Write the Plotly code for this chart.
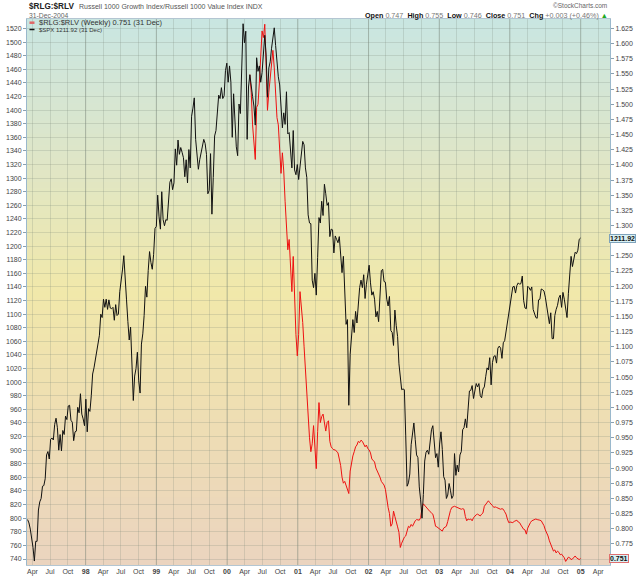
import pandas as pd
import plotly.graph_objects as go

# ---------------- DATA (weekly closes) ----------------
spx_1997 = [798, 793, 784, 773, 757, 737, 766, 766, 812, 824, 829, 847, 848,
            858, 893, 898, 887, 916, 918, 915, 938, 947, 933, 900, 923, 899,
            929, 923, 950, 945, 965, 966, 944, 941, 914, 927, 928, 963, 955,
            983, 953, 946, 936]
spx_1998 = [975, 927, 961, 957, 980, 1012, 1021, 1034, 1049, 1055, 1069, 1100, 1095,
            1122, 1110, 1122, 1107, 1121, 1109, 1108, 1110, 1091, 1114, 1098, 1100, 1133,
            1146, 1165, 1186, 1141, 1121, 1089, 1062, 1081, 1027, 973, 1009, 1020, 1044,
            1002, 984, 1056, 1071, 1098, 1141, 1125, 1164, 1192, 1176, 1166, 1188, 1226]
spx_1999 = [1229, 1275, 1243, 1225, 1280, 1239, 1230, 1239, 1238, 1275, 1294, 1299, 1283,
            1293, 1343, 1319, 1356, 1335, 1345, 1338, 1330, 1302, 1327, 1293, 1342, 1315,
            1391, 1403, 1418, 1357, 1329, 1313, 1327, 1336, 1348, 1357, 1351, 1335, 1277,
            1282, 1336, 1247, 1301, 1362, 1370, 1397, 1422, 1417, 1433, 1417, 1421, 1458, 1469]
spx_2000 = [1441, 1465, 1441, 1360, 1424, 1387, 1346, 1333, 1409, 1395, 1464, 1527, 1499,
            1516, 1357, 1434, 1452, 1433, 1420, 1406, 1378, 1477, 1457, 1465, 1441, 1455,
            1478, 1510, 1481, 1419, 1462, 1471, 1491, 1507, 1521, 1495, 1465, 1449, 1437,
            1408, 1374, 1396, 1379, 1427, 1365, 1367, 1341, 1315, 1370, 1312, 1305, 1320]
spx_2001 = [1298, 1318, 1342, 1354, 1349, 1315, 1301, 1246, 1234, 1233, 1150, 1139, 1160,
            1128, 1183, 1242, 1234, 1266, 1245, 1291, 1277, 1260, 1264, 1214, 1225, 1224,
            1190, 1215, 1210, 1205, 1214, 1190, 1161, 1185, 1133, 1085, 1092, 966, 1041,
            1071, 1092, 1073, 1104, 1087, 1120, 1139, 1150, 1139, 1158, 1123, 1144, 1161]
spx_2002 = [1172, 1146, 1128, 1133, 1122, 1096, 1104, 1089, 1132, 1164, 1166, 1148, 1147,
            1122, 1112, 1126, 1076, 1073, 1054, 1106, 1083, 1067, 1027, 1007, 989, 990,
            989, 921, 847, 852, 865, 908, 928, 940, 916, 893, 889, 846, 827,
            800, 835, 884, 897, 900, 894, 909, 930, 936, 906, 889, 895, 875]
spx_2003 = [909, 927, 901, 861, 856, 829, 834, 851, 841, 829, 833, 895, 863,
            878, 868, 893, 898, 930, 933, 946, 933, 964, 987, 988, 995, 976,
            985, 998, 993, 998, 980, 977, 990, 993, 1008, 1021, 1018, 1036, 996,
            1029, 1038, 1039, 1028, 1050, 1053, 1050, 1035, 1058, 1061, 1074, 1088, 1095]
spx_2004 = [1109, 1122, 1140, 1141, 1131, 1142, 1146, 1144, 1145, 1156, 1120, 1109, 1108,
            1141, 1139, 1135, 1140, 1107, 1099, 1095, 1094, 1121, 1122, 1137, 1136, 1134,
            1125, 1112, 1101, 1086, 1102, 1064, 1064, 1098, 1107, 1113, 1124, 1128, 1110,
            1132, 1122, 1108, 1095, 1130, 1167, 1185, 1170, 1182, 1191, 1189, 1194, 1210, 1211.92]
spx_starts = ["1997-03-07", "1998-01-02", "1999-01-01", "2000-01-07",
              "2001-01-05", "2002-01-04", "2003-01-03", "2004-01-02"]

ratio_2000 = [1.549, 1.52, 1.466, 1.43, 1.409, 1.495, 1.50, 1.535, 1.58, 1.621,
              1.61, 1.632, 1.564, 1.49, 1.52, 1.54, 1.57, 1.589, 1.56, 1.52, 1.478,
              1.466, 1.43, 1.386, 1.42, 1.39, 1.34, 1.30, 1.26, 1.277, 1.22, 1.191,
              1.249, 1.17, 1.12, 1.085]
ratio_2001 = [1.12, 1.191, 1.17, 1.14, 1.10, 1.059, 1.02, 0.978, 0.95, 0.927, 0.94, 0.970,
              0.93, 0.899, 0.96, 1.008, 0.975, 0.985, 0.989, 0.978, 0.961, 0.975, 0.978,
              0.944, 0.935, 0.932, 0.930, 0.93, 0.927, 0.925, 0.915, 0.904, 0.885, 0.875,
              0.878, 0.870, 0.862, 0.858, 0.895, 0.910, 0.920, 0.927, 0.935, 0.938, 0.944,
              0.942, 0.946, 0.944, 0.94, 0.935, 0.938, 0.932]
ratio_2002 = [0.930, 0.925, 0.915, 0.912, 0.91, 0.90, 0.895, 0.892, 0.885, 0.878, 0.875,
              0.872, 0.865, 0.846, 0.835, 0.825, 0.804, 0.808, 0.829, 0.820, 0.813, 0.803,
              0.794, 0.769, 0.776, 0.783, 0.786, 0.788, 0.795, 0.804, 0.802, 0.807, 0.804,
              0.810, 0.813, 0.815, 0.815, 0.814, 0.818, 0.835, 0.841, 0.838, 0.835, 0.833,
              0.830, 0.828, 0.826, 0.824, 0.815, 0.804, 0.803, 0.801]
ratio_2003 = [0.800, 0.798, 0.796, 0.801, 0.803, 0.804, 0.812, 0.824, 0.830, 0.835, 0.836,
              0.837, 0.836, 0.835, 0.834, 0.833, 0.832, 0.833, 0.832, 0.820, 0.813, 0.816,
              0.815, 0.816, 0.813, 0.818, 0.821, 0.823, 0.824, 0.822, 0.821, 0.824, 0.826,
              0.837, 0.840, 0.843, 0.846, 0.843, 0.841, 0.838, 0.835, 0.836, 0.835, 0.834,
              0.833, 0.832, 0.833, 0.832, 0.828, 0.824, 0.816, 0.810]
ratio_2004 = [0.811, 0.810, 0.810, 0.812, 0.813, 0.814, 0.811, 0.810, 0.806, 0.801, 0.799,
              0.798, 0.791, 0.801, 0.807, 0.810, 0.813, 0.814, 0.815, 0.816, 0.815, 0.815,
              0.814, 0.813, 0.810, 0.805, 0.798, 0.793, 0.788, 0.780, 0.774, 0.768, 0.763,
              0.765, 0.760, 0.763, 0.761, 0.757, 0.758, 0.755, 0.752, 0.746, 0.750, 0.753,
              0.752, 0.749, 0.750, 0.753, 0.755, 0.752, 0.750, 0.749, 0.751]
ratio_starts = ["2000-04-28", "2001-01-05", "2002-01-04", "2003-01-03", "2004-01-02"]

x_tick_dates = ["1997-04-01", "1997-07-01", "1997-10-01",
                "1998-01-01", "1998-04-01", "1998-07-01", "1998-10-01",
                "1999-01-01", "1999-04-01", "1999-07-01", "1999-10-01",
                "2000-01-01", "2000-04-01", "2000-07-01", "2000-10-01",
                "2001-01-01", "2001-04-01", "2001-07-01", "2001-10-01",
                "2002-01-01", "2002-04-01", "2002-07-01", "2002-10-01",
                "2003-01-01", "2003-04-01", "2003-07-01", "2003-10-01",
                "2004-01-01", "2004-04-01", "2004-07-01", "2004-10-01",
                "2005-01-01", "2005-04-01"]
x_tick_text = ["Apr", "Jul", "Oct",
               "98", "Apr", "Jul", "Oct", "99", "Apr", "Jul", "Oct",
               "00", "Apr", "Jul", "Oct", "01", "Apr", "Jul", "Oct",
               "02", "Apr", "Jul", "Oct", "03", "Apr", "Jul", "Oct",
               "04", "Apr", "Jul", "Oct", "05", "Apr"]
spx_ticks = list(range(740, 1521, 20))
ratio_ticks = [0.775, 0.800, 0.825, 0.850, 0.875, 0.900, 0.925, 0.950, 0.975, 1.000,
               1.025, 1.050, 1.075, 1.100, 1.125, 1.150, 1.175, 1.200, 1.225, 1.250,
               1.300, 1.325, 1.350, 1.375, 1.400, 1.425, 1.450, 1.475, 1.500, 1.525,
               1.550, 1.575, 1.600, 1.625]

title_sym = "$RLG:$RLV"
title_desc = "Russell 1000 Growth Index/Russell 1000 Value Index INDX"
date_text = "31-Dec-2004"
ohlc = [("Open", "0.747"), ("High", "0.755"), ("Low", "0.746"),
        ("Close", "0.751"), ("Chg", "+0.003 (+0.46%)")]
legend_ratio = "$RLG:$RLV (Weekly) 0.751 (31 Dec)"
legend_spx = "$SPX 1211.92 (31 Dec)"

# ---------------- BUILD ----------------
def weekly(starts, chunks):
    xs, ys = [], []
    for s, vals in zip(starts, chunks):
        xs += list(pd.date_range(s, periods=len(vals), freq="W-FRI"))
        ys += vals
    return xs, ys

spx_x, spx_y = weekly(spx_starts, [spx_1997, spx_1998, spx_1999, spx_2000,
                                   spx_2001, spx_2002, spx_2003, spx_2004])
rat_x, rat_y = weekly(ratio_starts, [ratio_2000, ratio_2001, ratio_2002,
                                     ratio_2003, ratio_2004])

FONT = "Liberation Sans, Arial, sans-serif"
L, R, T, B = 27, 30, 19, 11
W, H = 640, 576
PW, PH = W - L - R, H - T - B

def px(x):
    return (x - L) / PW

def py(y):
    return (H - B - y) / PH

fig = go.Figure()
fig.add_trace(go.Scatter(x=rat_x, y=rat_y, mode="lines", yaxis="y",
                         line=dict(color="#ee1111", width=1), hoverinfo="skip"))
fig.add_trace(go.Scatter(x=spx_x, y=spx_y, mode="lines", yaxis="y2",
                         line=dict(color="#111111", width=1), hoverinfo="skip"))

# gradient background strips
stops = [(0.0, (201, 230, 226)), (0.25, (222, 230, 200)), (0.5, (241, 232, 170)),
         (0.75, (238, 221, 180)), (1.0, (235, 212, 191))]

def col(t):
    for (t0, c0), (t1, c1) in zip(stops[:-1], stops[1:]):
        if t0 <= t <= t1:
            f = (t - t0) / (t1 - t0)
            return "rgb(%d,%d,%d)" % tuple(round(a + (b - a) * f) for a, b in zip(c0, c1))
    return "rgb(%d,%d,%d)" % stops[-1][1]

shapes = []
N = 90
for i in range(N):
    top = 1 - i / N
    bot = 1 - (i + 1) / N
    shapes.append(dict(type="rect", xref="paper", yref="paper", x0=0, x1=1,
                       y0=bot - 0.001, y1=top + 0.001, fillcolor=col((i + 0.5) / N),
                       line=dict(width=0), layer="below"))
# darker year gridlines
for d, t in zip(x_tick_dates, x_tick_text):
    if t.isdigit():
        shapes.append(dict(type="line", xref="x", yref="paper", x0=d, x1=d, y0=0, y1=1,
                           line=dict(color="rgba(110,120,110,0.35)", width=1), layer="below"))
# legend dashes
shapes.append(dict(type="line", xref="paper", yref="paper", x0=px(29.5), x1=px(34.5),
                   y0=py(22.7), y1=py(22.7), line=dict(color="#e06666", width=2.5)))
shapes.append(dict(type="line", xref="paper", yref="paper", x0=px(29.5), x1=px(34.5),
                   y0=py(29.5), y1=py(29.5), line=dict(color="#111111", width=1.5)))

ann = []
ann.append(dict(text="<b>%s</b>" % title_sym, x=px(26.5), y=py(6), xref="paper", yref="paper",
                xanchor="left", yanchor="middle", showarrow=False,
                font=dict(family=FONT, size=8.2, color="#222")))
ann.append(dict(text=title_desc, x=px(77), y=py(6.5), xref="paper", yref="paper",
                xanchor="left", yanchor="middle", showarrow=False,
                font=dict(family=FONT, size=7, color="#555")))
ann.append(dict(text=date_text, x=px(26.5), y=py(15), xref="paper", yref="paper",
                xanchor="left", yanchor="middle", showarrow=False,
                font=dict(family=FONT, size=6.8, color="#666")))
ann.append(dict(text="\u00a9StockCharts.com", x=px(609), y=py(5.5), xref="paper", yref="paper",
                xanchor="right", yanchor="middle", showarrow=False,
                font=dict(family=FONT, size=6.5, color="#666")))
ohlc_txt = "  ".join("<b>%s</b> <span style='color:#777'>%s</span>" % (k, v) for k, v in ohlc)
ohlc_txt += " <span style='color:#22aa22'>\u25b2</span>"
ann.append(dict(text=ohlc_txt, x=px(610), y=py(15), xref="paper", yref="paper",
                xanchor="right", yanchor="middle", showarrow=False,
                font=dict(family=FONT, size=7.2, color="#111")))
ann.append(dict(text=legend_ratio, x=px(36.5), y=py(22.7), xref="paper", yref="paper",
                xanchor="left", yanchor="middle", showarrow=False,
                font=dict(family=FONT, size=7.5, color="#333")))
ann.append(dict(text=legend_spx, x=px(36.5), y=py(29.8), xref="paper", yref="paper",
                xanchor="left", yanchor="middle", showarrow=False,
                font=dict(family=FONT, size=6, color="#333")))
# last value tags
ann.append(dict(text="<b>%.2f</b>" % spx_y[-1], x=1, y=spx_y[-1], xref="paper", yref="y2",
                xanchor="left", yanchor="middle", showarrow=False, xshift=-1,
                bgcolor="#d9f1f4", bordercolor="#7fa3bb", borderwidth=1, borderpad=0,
                font=dict(family=FONT, size=7, color="#111")))
ann.append(dict(text="<b>%.3f</b>" % rat_y[-1], x=1, y=rat_y[-1], xref="paper", yref="y",
                xanchor="left", yanchor="middle", showarrow=False, xshift=-1,
                bgcolor="#d9f1f4", bordercolor="#e07070", borderwidth=1, borderpad=0,
                font=dict(family=FONT, size=7, color="#111")))

tick_text = ["<b>%s</b>" % t if t.isdigit() else t for t in x_tick_text]

fig.update_layout(
    width=W, height=H, margin=dict(l=L, r=R, t=T, b=B, pad=0),
    paper_bgcolor="white", plot_bgcolor="rgb(235,212,191)", showlegend=False,
    font=dict(family=FONT, size=7, color="#444"),
    shapes=shapes, annotations=ann,
    xaxis=dict(type="date", range=["1997-03-04", "2005-06-01"], automargin=False,
               tickvals=x_tick_dates, ticktext=tick_text, ticks="",
               showgrid=True, gridcolor="rgba(120,130,120,0.22)", gridwidth=1,
               showline=True, linecolor="#b4c6d2", mirror=True, zeroline=False,
               tickfont=dict(family=FONT, size=7, color="#444")),
    yaxis=dict(side="right", range=[0.7401, 1.64067], tickvals=ratio_ticks, automargin=False,
               tickformat=".3f", showgrid=False, zeroline=False,
               ticks="outside", ticklen=3, tickcolor="#8aa0b0",
               showline=True, linecolor="#9ab8cc",
               tickfont=dict(family=FONT, size=7, color="#444")),
    yaxis2=dict(overlaying="y", side="left", range=[731.18, 1533.97], tickvals=spx_ticks,
                automargin=False,
                showgrid=True, gridcolor="rgba(120,130,120,0.22)", gridwidth=1,
                zeroline=False, ticks="outside", ticklen=3, tickcolor="#8aa0b0",
                showline=True, linecolor="#9ab8cc",
                tickfont=dict(family=FONT, size=7, color="#444")),
)

fig.write_html("out.html", config={"displayModeBar": False},
               post_script="document.body.style.margin='0px';document.body.style.overflow='hidden';")
